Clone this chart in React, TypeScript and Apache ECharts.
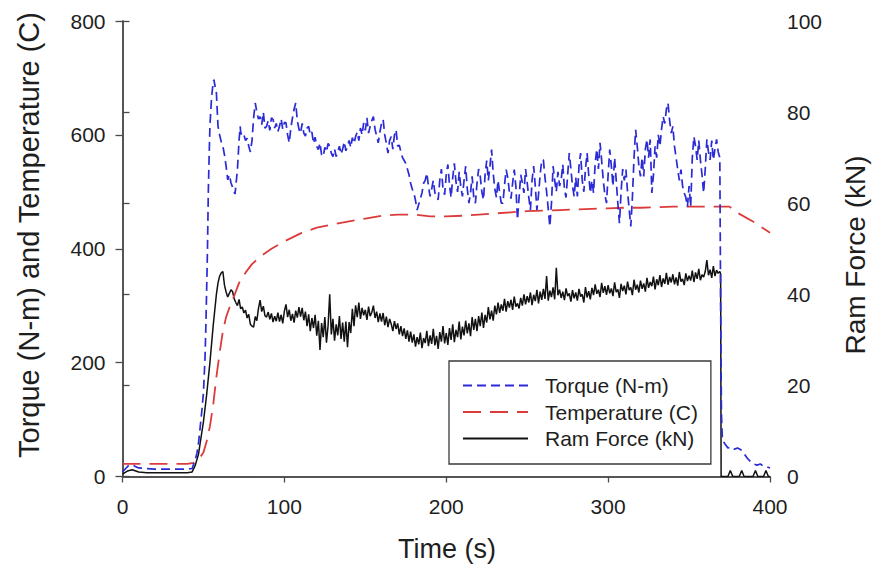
import React, { useEffect, useRef } from "react";
import * as echarts from "echarts";

// ---------- data ----------
const xTicks = [0, 100, 200, 300, 400];
const leftTicks = [0, 200, 400, 600, 800];
const rightTicks = [0, 20, 40, 60, 80, 100];

const seriesNames = ["Torque (N-m)", "Temperature (C)", "Ram Force (kN)"];

// Torque (N-m): sparse start, dense 1-s samples, tail
const torqueStart: [number, number][] = [
  [0, 8], [2, 14], [4, 20], [7, 19], [10, 15], [15, 14], [20, 13], [30, 13], [40, 13], [43, 14],
  [45, 30], [46, 41], [47, 60], [48, 87], [49, 115], [50, 147], [51, 210], [51.5, 264], [52, 330],
  [52.5, 400], [53, 498], [53.5, 560], [54, 615], [55, 665], [56, 692], [56.5, 697], [57, 688],
  [58, 674], [59, 615], [60, 600], [61, 588], [62, 580], [63, 565], [64, 545], [65, 521], [66, 530],
  [67, 516], [68, 508], [69, 500], [69.5, 496], [70, 510], [71, 539], [72, 590], [72.7, 615],
  [73, 605], [74, 597], [75, 600], [76, 590], [77, 594], [78, 580], [79, 570], [80, 590],
  [81, 630], [82, 656], [83, 640], [84, 628],
];
const torqueDenseStart = 85;
const torqueDense = [
  632, 618, 640, 612, 615, 625, 608, 630, 627, 612,
  620, 606, 615, 628, 610, 622, 621, 600, 586, 612,
  630, 645, 656, 625, 610, 603, 620, 603, 598, 612,
  615, 600, 605, 585, 596, 580, 574, 586, 565, 562,
  578, 570, 585, 580, 568, 562, 575, 562, 570, 580,
  566, 575, 588, 572, 580, 590, 578, 595, 585, 597,
  605, 590, 612, 600, 621, 608, 630, 603, 615, 625,
  632, 610, 598, 586, 605, 620, 627, 600, 585, 568,
  590, 597, 575, 600, 609, 580, 582, 570, 560, 555,
  550, 540, 530, 515, 505, 498, 485, 468, 478, 488,
  498, 515, 520, 533, 510, 492, 505, 520, 498, 492,
  486, 520, 540, 505, 495, 530, 548, 512, 490, 525,
  550, 518, 500, 535, 509, 492, 520, 545, 505, 480,
  498, 527, 490, 480, 515, 540, 527, 500, 486, 530,
  555, 520, 545, 574, 533, 505, 490, 520, 498, 480,
  480, 512, 539, 525, 500, 488, 515, 539, 510, 451,
  490, 530, 516, 498, 540, 516, 490, 468, 520, 545,
  510, 468, 495, 530, 556, 556, 525, 500, 470, 439,
  480, 545, 520, 500, 535, 510, 521, 548, 505, 490,
  530, 568, 540, 510, 492, 525, 492, 545, 568, 520,
  500, 540, 568, 530, 498, 520, 498, 550, 575, 540,
  586, 555, 520, 495, 480, 530, 574, 545, 510, 560,
  520, 480, 445, 500, 540, 520, 539, 500, 470, 439,
  490, 560, 609, 580, 545, 527, 560, 527, 575, 592,
  560, 592, 498, 530, 580, 560, 600, 580, 610, 632,
  620, 645, 656, 625, 603, 615, 580, 560, 539, 520,
  539, 510, 498, 490, 474, 510, 474, 560, 597, 580,
  556, 590, 556, 530, 498, 540, 592, 570, 556, 590,
  556, 575, 592, 570, 560,
];
const torqueTail: [number, number][] = [
  [369.5, 300], [370, 110], [370.6, 64], [372, 58], [374, 50], [376, 52], [378, 48], [380, 50],
  [382, 47], [384, 40], [386, 32], [388, 26], [390, 22], [392, 20], [394, 22], [396, 18],
  [398, 17], [400, 15],
];

// Temperature (C)
const temperature: [number, number][] = [
  [0, 22], [10, 22], [20, 22], [30, 22], [40, 22], [44, 24], [47, 30], [50, 42], [52, 62],
  [54, 88], [56, 125], [58, 175], [60, 217], [62, 255], [64, 280], [66, 296], [68, 310],
  [72, 340], [76, 358], [80, 373], [86, 388], [92, 400], [100, 413], [110, 427], [120, 437],
  [130, 443], [140, 448], [150, 453], [160, 458], [170, 460], [180, 460], [190, 457], [200, 457],
  [210, 458], [220, 460], [230, 462], [240, 464], [250, 466], [260, 467], [270, 468], [280, 469],
  [290, 470], [300, 471], [310, 472], [320, 472], [330, 473], [340, 474], [350, 474], [360, 474],
  [370, 474], [375, 474], [380, 463], [390, 447], [400, 428],
];

// Ram Force (kN)
const forceStart: [number, number][] = [
  [0, 0.5], [3, 1.2], [6, 1.5], [10, 1.0], [15, 0.8], [20, 0.8], [30, 0.8], [40, 0.8], [43, 1.0],
  [45, 2.5], [47, 5], [48, 7.4], [50, 12], [52, 18], [54, 25], [55, 29], [56, 33], [57, 36.5],
  [58, 40], [59, 42.5], [60, 44], [61, 44.7], [62, 45],
];
const forceDenseStart = 63;
const forceDense = [
  42.0, 40.5, 39.4, 40.2, 41.0, 40.6, 39.0,
  38.2, 37.5, 38.9, 36.8, 37.2, 35.9, 36.5, 34.8, 35.6, 33.4,
  33.0, 32.8, 35.1, 34.2, 36.9, 38.7, 36.2, 37.4, 35.3, 35.0,
  36.1, 34.5, 35.8, 33.9, 35.2, 34.1, 36.0, 34.0, 35.5, 33.6,
  36.3, 37.8, 35.0, 36.6, 34.2, 35.7, 33.8, 36.4, 34.9, 37.2,
  35.1, 37.0, 34.3, 36.2, 33.0, 35.6, 31.9, 34.8, 32.6, 35.5,
  30.9, 34.2, 27.8, 33.7, 30.6, 35.0, 29.4, 33.1, 40.0, 31.2,
  34.6, 29.8, 33.4, 31.0, 35.2, 30.2, 33.8, 29.6, 34.0, 28.4,
  33.9, 31.5, 36.8, 33.0, 37.6, 35.0, 38.2, 34.6, 37.0, 35.4,
  36.6, 34.4, 37.3, 35.2, 36.0, 37.5, 34.8, 36.2, 33.9, 35.8,
  34.0, 35.9, 33.2, 35.1, 32.8, 34.6, 33.5, 31.9, 34.1, 32.4,
  33.6, 31.2, 33.0, 30.8, 32.5, 30.2, 32.1, 29.6, 31.8, 29.4,
  31.2, 28.5, 30.6, 29.0, 31.6, 28.2, 30.4, 29.3, 32.0, 28.6,
  31.0, 29.1, 32.4, 28.8, 30.9, 28.0, 31.7, 29.6, 33.0, 29.2,
  31.5, 28.9, 32.6, 30.0, 33.4, 29.5, 32.2, 30.6, 34.0, 30.1,
  32.9, 31.0, 34.2, 31.4, 33.6, 30.8, 35.0, 32.2, 34.6, 31.9,
  35.2, 33.0, 36.0, 32.6, 35.5, 33.8, 37.2, 34.5, 36.4, 34.2,
  37.5, 35.6, 38.2, 35.9, 37.8, 36.4, 39.0, 36.2, 38.5, 37.1,
  38.8, 36.6, 39.5, 37.3, 38.0, 36.9, 39.2, 37.5, 40.0, 37.8,
  39.6, 38.2, 40.4, 37.6, 39.9, 38.5, 41.0, 38.0, 40.6, 38.8,
  41.2, 39.0, 44.0, 38.6, 40.8, 39.4, 41.5, 38.9, 45.8, 39.8,
  41.0, 39.2, 40.6, 38.7, 41.3, 39.6, 40.2, 38.4, 40.9, 39.1,
  40.4, 38.6, 41.2, 39.5, 40.0, 38.2, 41.6, 39.3, 40.7, 38.9,
  41.4, 39.8, 42.2, 40.1, 41.0, 39.4, 42.5, 40.3, 41.8, 39.9,
  42.0, 40.2, 41.3, 39.6, 42.6, 40.5, 41.1, 39.2, 42.3, 40.7,
  41.9, 40.0, 42.8, 40.9, 41.5, 39.8, 43.2, 41.0, 42.1, 40.4,
  43.0, 41.2, 42.4, 40.6, 43.6, 41.4, 42.7, 41.8, 43.9, 41.1,
  43.3, 42.0, 44.2, 41.6, 43.5, 42.3, 44.7, 42.1, 43.8, 42.6,
  44.4, 42.2, 43.7, 41.9, 44.9, 42.8, 43.4, 42.0, 44.6, 42.9,
  44.1, 43.0, 45.2, 42.7, 44.8, 43.4, 45.6, 43.1, 44.3, 43.8,
  45.0, 47.5, 44.2, 45.4, 43.6, 46.2, 44.0, 45.3, 44.6, 45.0,
];
const forceTail: [number, number][] = [
  [369.5, 44.5], [369.8, 0], [374, 0], [375.5, 1.3], [377, 0], [381, 0], [382.5, 1.3], [384, 0],
  [389.5, 0], [391, 1.3], [392.5, 0], [396, 0], [397.5, 1.3], [399, 0], [400, 0],
];

// ---------- helpers ----------
const dense = (start: number, vals: number[]): [number, number][] =>
  vals.map((v, i) => [start + i, v]);

const torqueData = [...torqueStart, ...dense(torqueDenseStart, torqueDense), ...torqueTail];
const forceData = [...forceStart, ...dense(forceDenseStart, forceDense), ...forceTail];

const FONT = 'Arial, "Liberation Sans", Helvetica, sans-serif';
const TEXT = "#1e1e1e";
const AXIS = "#4a4a4a";

export default function App() {
  const ref = useRef<HTMLDivElement>(null);
  useEffect(() => {
    if (!ref.current) return;
    const chart = echarts.init(ref.current, undefined, { renderer: "svg" });
    const axisLine = { show: true, lineStyle: { color: AXIS, width: 1.5 } };
    const axisTick = { show: true, inside: false, length: 7, lineStyle: { color: AXIS, width: 1.3 } };
    const axisLabel = { color: TEXT, fontSize: 21, fontFamily: FONT };
    chart.setOption({
      animation: false,
      backgroundColor: "#ffffff",
      grid: { left: 122.5, right: 102, top: 21, bottom: 89.5, containLabel: false },
      xAxis: [
        {
          type: "value", min: xTicks[0], max: xTicks[xTicks.length - 1], interval: 100,
          axisLine, axisTick: { ...axisTick, length: 6 }, splitLine: { show: false },
          axisLabel: { ...axisLabel, margin: 19 },
        },
        {
          type: "value", position: "top", min: 0, max: 400, interval: 100,
          axisLine, axisTick: { show: false }, axisLabel: { show: false }, splitLine: { show: false },
        },
      ],
      yAxis: [
        {
          type: "value", position: "left", min: leftTicks[0], max: leftTicks[leftTicks.length - 1], interval: 200,
          axisLine, axisTick, splitLine: { show: false },
          axisLabel: { ...axisLabel, margin: 17 },
        },
        {
          type: "value", position: "right", min: rightTicks[0], max: rightTicks[rightTicks.length - 1], interval: 20,
          axisLine, axisTick, splitLine: { show: false },
          axisLabel: { ...axisLabel, margin: 17 },
        },
      ],
      legend: {
        orient: "vertical",
        left: 449,
        top: 361,
        padding: [14, 13, 15, 13],
        itemGap: 5.5,
        itemWidth: 65,
        itemHeight: 14,
        borderColor: "#3a3a3a",
        borderWidth: 1.3,
        backgroundColor: "#ffffff",
        data: seriesNames,
        itemStyle: { opacity: 0 },
        textStyle: { color: TEXT, fontSize: 21, fontFamily: FONT, padding: [0, 0, 0, 12] },
      },
      graphic: [
        {
          type: "text", x: 447, y: 549,
          style: { text: "Time (s)", font: `27px ${FONT}`, fill: TEXT, align: "center", verticalAlign: "middle" },
        },
        {
          type: "text", x: 29, y: 235, rotation: Math.PI / 2,
          style: { text: "Torque (N-m) and Temperature (C)", font: `29px ${FONT}`, fill: TEXT, align: "center", verticalAlign: "middle" },
        },
        {
          type: "text", x: 855, y: 255, rotation: Math.PI / 2,
          style: { text: "Ram Force (kN)", font: `28px ${FONT}`, fill: TEXT, align: "center", verticalAlign: "middle" },
        },
      ],
      series: [
        {
          name: seriesNames[0], type: "line", yAxisIndex: 0, xAxisIndex: 0, data: torqueData,
          symbol: "none", lineStyle: { color: "#2a2ad6", width: 1.7, type: [9, 5] },
          itemStyle: { color: "#2a2ad6" }, z: 3,
        },
        {
          name: seriesNames[1], type: "line", yAxisIndex: 0, xAxisIndex: 0, data: temperature,
          symbol: "none", lineStyle: { color: "#dc3b3b", width: 1.8, type: [18, 9] },
          itemStyle: { color: "#dc3b3b" }, z: 2,
        },
        {
          name: seriesNames[2], type: "line", yAxisIndex: 1, xAxisIndex: 0, data: forceData,
          symbol: "none", lineStyle: { color: "#111111", width: 1.5 },
          itemStyle: { color: "#111111" }, z: 1,
        },
      ],
    });
    return () => chart.dispose();
  }, []);
  return (
    <div
      ref={ref}
      style={{ position: "fixed", left: 0, top: 0, width: 872, height: 566, background: "#fff" }}
    />
  );
}
